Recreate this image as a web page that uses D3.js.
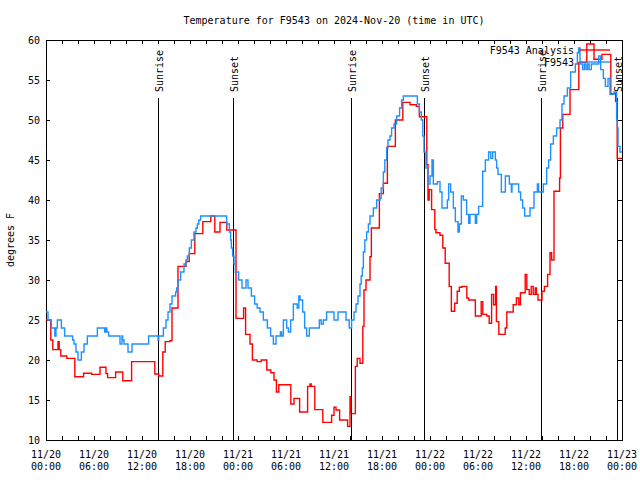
<!DOCTYPE html>
<html><head><meta charset="utf-8">
<script src="https://cdn.jsdelivr.net/npm/d3@7"></script>
<style>
body{margin:0;background:#fff;}
text{font-family:"DejaVu Sans Mono",monospace;font-size:10px;fill:#000;}
</style></head>
<body>
<svg id="chart" width="640" height="480"></svg>
<script>
// ---- data (hours since 2024-11-20 00:00 UTC, degrees F) ----
const analysisHours = [0,0.6,0.85,1.5,1.65,1.85,2.6,3.6,4.7,5.7,6.75,7.5,7.7,8.7,9.6,10.7,13.6,14.1,14.6,14.9,15.5,15.75,16.5,17.5,17.9,18.6,19.6,20.6,21.1,21.75,22.6,23.75,24.7,24.95,25.5,25.8,26.4,26.9,27.6,28.1,28.5,28.8,29.1,30.6,31.0,31.7,32.7,33.0,33.15,33.6,34.6,35.7,36.0,36.25,36.7,37.7,38.0,38.1,38.67,38.9,39.25,39.6,39.75,40.0,40.5,40.67,41.67,42.17,42.67,43.67,44.6,45.5,46.3,46.67,47.6,47.75,47.9,48.2,48.6,48.75,49.25,49.6,49.9,50.4,50.67,51.08,51.4,51.67,52.0,52.6,52.83,53.67,54.4,54.6,55.1,55.4,55.7,55.95,56.2,56.3,56.6,57.4,57.6,58.4,58.8,59.1,59.3,59.9,60.1,60.4,60.65,60.9,61.15,61.3,61.5,62.0,62.3,62.7,63.0,63.2,63.5,64.2,64.3,64.6,65.5,66.6,67.6,68.5,69.5,70.6,71.2,71.4];
const analysisTemps = [25,22.5,21.3,22.3,21.3,20.5,20.2,17.9,18.35,18.2,19.1,18.3,17.8,18.5,17.4,19.8,18.25,18.0,21.0,22.3,22.4,26.5,31.7,32.3,33.3,35.8,37.3,38.0,36.0,37.2,36.25,25.2,26.5,23.2,22,20,19.8,20,18.75,18.4,17.5,16.0,16.9,14.5,15.2,13.5,16.7,17.0,16.7,13.8,12.2,13.1,14.1,13.75,12.5,11.7,15.4,13.3,19.2,20.2,19.6,24.2,28.75,30.0,32.9,36.5,40.8,42.1,46.7,50.0,52.2,51.9,51.7,50.4,44.4,40,41.3,38.8,36.3,35.9,35.6,34,32.1,29.2,26.1,27.1,28.6,29.1,29.2,27.75,27.5,25.5,27.3,25.7,25.5,24.6,28.2,26.9,29.2,24.8,23.2,24,26,26.9,27.75,26.9,28.4,30.7,28.8,28.2,29.2,28.2,29,28.2,27.5,28.6,29.2,30.7,33.4,32.5,41.1,42.75,49.0,50.7,53.8,57.2,59.5,57.6,58.2,53.3,52.3,45.2];

const obsHours = [0,0.25,0.67,1.1,1.25,1.42,1.92,2.33,3.33,3.5,3.75,4.0,4.42,4.75,5.17,6.42,7.33,7.45,7.6,7.83,9.25,9.5,9.58,9.75,10.25,10.75,12.83,14.0,14.1,14.67,15.0,15.25,15.5,15.75,16.2,16.33,16.5,16.83,17.25,17.5,17.67,17.92,18.17,18.5,18.75,18.92,19.1,19.33,22.58,22.92,23.08,23.17,23.33,23.5,23.67,24.08,24.5,25.0,25.25,25.67,26.08,26.4,26.75,27.17,27.67,28.08,28.42,28.75,29.3,29.45,29.67,30.08,30.3,30.58,30.92,31.4,31.6,31.75,32.08,32.33,32.58,32.92,34.17,34.4,34.67,35.08,36.0,36.5,37.5,37.9,38.2,38.5,38.75,39.0,39.25,39.4,39.55,39.67,39.85,40.08,40.3,40.5,40.92,41.33,41.75,41.9,42.17,42.35,42.58,42.75,43.0,43.2,43.5,43.83,44.2,44.46,44.67,46.42,46.67,46.92,47.1,47.25,47.5,47.75,48.0,48.25,48.42,48.92,49.25,49.5,50.17,50.33,50.58,50.92,51.17,51.5,51.67,51.92,52.17,52.58,52.83,53.0,53.67,53.83,54.08,54.58,54.92,55.33,55.6,55.83,56.17,56.33,56.5,56.92,57.42,57.92,58.17,58.25,59.08,59.33,59.58,59.83,60.5,61.0,61.42,61.58,62.17,62.58,62.83,63.08,63.42,63.83,64.25,64.5,64.75,65.17,65.58,66.17,66.42,66.58,66.75,67.08,67.3,67.5,67.7,67.9,68.17,69.08,69.33,69.67,69.92,70.25,70.5,71.0,71.33,71.42,71.5,71.75];
const obsTemps = [26,25,24,23,24,25,24,23,22.5,22,21,20,21,22,23,24,23.5,24,23.5,23,22,23,22.5,22,21,22,23,22.5,23,24,25,26,27,28,28.5,29,30,31,32,32.5,33,34,35,36,36.5,37,37.5,38,37,36,35,34,33,32,31,30,29,30,29,28,27,26.5,26,25,24,23,22,23,23.5,23,25,24,23.5,25,27,26.5,28,27.5,26,24,23,24,25,24.5,25,26,25,26,25,24,25,26,27,28,29.5,30.5,31.5,33.5,35,36,37,38,39,40,40.25,41.5,43.5,45,46.5,47.5,48,49,49.5,50.5,51.5,52.5,53,52,51,50,48,46,44,42,43,45,42,42.3,41,39,40,42,41,39,37.3,36,37,40.5,40,38.2,37.1,38.2,37.1,38.2,39.2,43.6,45,46,45.2,46,45,44,43.2,41,43,42,41,42,41,40,39,38,39,41,42,41,42,44,45,47,48,49,50,52,53,54,56,57,58.4,59,57,56.3,57,56.3,57,56.3,57,58,56.3,55.2,54.2,55.2,53.2,53.5,50,49,46.7,46];

const sunriseHours = [14.04, 38.07, 61.92];
const sunsetHours = [23.42, 47.27, 71.33];

const seriesNames = ["F9543 Analysis", "F9543"];
const seriesColors = ["#ff0000", "#1e90ff"];
const yTicks = [10,15,20,25,30,35,40,45,50,55,60];
const titleText = "Temperature for F9543 on 2024-Nov-20 (time in UTC)";
const yLabel = "degrees F";

// ---- chart ----
const base = Date.UTC(2024,10,20);
const toDate = h => new Date(base + h*3600e3);
const L=46, R=622, T=40, B=440;
const svg = d3.select("#chart");
const x = d3.scaleUtc().domain([toDate(0), toDate(72)]).range([L,R]);
const y = d3.scaleLinear().domain([10,60]).range([B,T]);

svg.append("defs").append("clipPath").attr("id","clip")
  .append("rect").attr("x",L).attr("y",T).attr("width",R-L).attr("height",B-T);

// title
svg.append("text").attr("x",(L+R)/2).attr("y",24).attr("text-anchor","middle").text(titleText);
// y label
svg.append("text").attr("transform",`translate(14,${(T+B)/2}) rotate(-90)`).attr("text-anchor","middle").text(yLabel);

// axes ticks
const minorTicks = d3.utcHour.every(2).range(toDate(0), toDate(72.01));
const majorTicks = d3.utcHour.every(6).range(toDate(0), toDate(72.01));
const gx = svg.append("g").attr("transform",`translate(0,${B})`)
  .call(d3.axisBottom(x).tickValues(minorTicks).tickSize(-4).tickFormat(""));
const gxt = svg.append("g").attr("transform",`translate(0,${T})`)
  .call(d3.axisTop(x).tickValues(minorTicks).tickSize(-4).tickFormat(""));
const gy = svg.append("g").attr("transform",`translate(${L},0)`)
  .call(d3.axisLeft(y).tickValues(yTicks).tickSize(-4).tickPadding(6).tickFormat(d3.format("d")));
const gyr = svg.append("g").attr("transform",`translate(${R},0)`)
  .call(d3.axisRight(y).tickValues(yTicks).tickSize(-4).tickFormat(""));
[gx,gxt,gy,gyr].forEach(g=>{
  g.select(".domain").remove();
  g.selectAll("line").attr("stroke","#000").attr("shape-rendering","crispEdges");
});
gy.selectAll("text").attr("font-family","DejaVu Sans Mono").attr("font-size",10).attr("fill","#000");

const fmtD = d3.utcFormat("%m/%d"), fmtT = d3.utcFormat("%H:%M");
const lab = svg.append("g");
majorTicks.forEach(d=>{
  const t = lab.append("text").attr("text-anchor","middle");
  t.append("tspan").attr("x",x(d)).attr("y",458).text(fmtD(d));
  t.append("tspan").attr("x",x(d)).attr("y",470).text(fmtT(d));
});

// frame
svg.append("rect").attr("x",L).attr("y",T).attr("width",R-L).attr("height",B-T)
  .attr("fill","none").attr("stroke","#000").attr("shape-rendering","crispEdges");

// sunrise / sunset
const events = sunriseHours.map(h=>({h,name:"Sunrise"})).concat(sunsetHours.map(h=>({h,name:"Sunset"})));
events.forEach(e=>{
  const xx = Math.round(x(toDate(e.h)))+0.5;
  svg.append("line").attr("x1",xx).attr("x2",xx).attr("y1",98).attr("y2",B).attr("stroke","#000").attr("stroke-width",1);
  svg.append("text").attr("transform",`translate(${xx+4},92) rotate(-90)`).text(e.name);
});

// data lines
const line = d3.line().curve(d3.curveStepAfter).x(d=>x(toDate(d[0]))).y(d=>y(d[1]));
const seriesData = [
  d3.zip(analysisHours.concat([72]), analysisTemps.concat([analysisTemps[analysisTemps.length-1]])),
  d3.zip(obsHours.concat([72]), obsTemps.concat([obsTemps[obsTemps.length-1]]))
];
const gd = svg.append("g").attr("clip-path","url(#clip)");
seriesData.forEach((s,i)=>{
  gd.append("path").datum(s).attr("d",line).attr("fill","none")
    .attr("stroke",seriesColors[i]).attr("stroke-width",1.4);
});

// legend
seriesNames.forEach((n,i)=>{
  const yy = 50 + i*12;
  svg.append("text").attr("x",574).attr("y",yy+4).attr("text-anchor","end").text(n);
  svg.append("line").attr("x1",580).attr("x2",610).attr("y1",yy).attr("y2",yy)
    .attr("stroke",seriesColors[i]).attr("stroke-width",1.4);
});
</script>
</body></html>
